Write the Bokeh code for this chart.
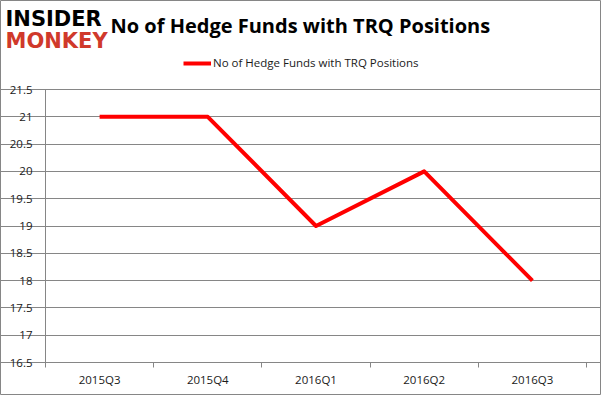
from bokeh.plotting import figure
from bokeh.models import (Range1d, LinearAxis, FixedTicker,
                          Label, Legend, LegendItem, ColumnDataSource)
from bokeh.embed import file_html
from bokeh.resources import INLINE

categories = ["2015Q3", "2015Q4", "2016Q1", "2016Q2", "2016Q3"]
hedge_funds = [21, 21, 19, 20, 18]
y_ticks = [16.5, 17, 17.5, 18, 18.5, 19, 19.5, 20, 20.5, 21, 21.5]
title_text = "No of Hedge Funds with TRQ Positions"
series_name = "No of Hedge Funds with TRQ Positions"
logo_top = "INSIDER"
logo_bottom = "MONKEY"

GRID = "#868686"
FONT = "Open Sans"

# canvas / plot-area geometry (pixels)
W, H = 601, 395
PL, PR, PT, PB = 45, 586, 89, 362

n = len(categories)
y0, y1 = y_ticks[0], y_ticks[-1]
centers = [i + 0.5 for i in range(n)]
edges = [float(i) for i in range(n + 1)]
src = ColumnDataSource(dict(x=centers, y=hedge_funds, cat=categories))

# ranges extended so that the data area sits at PL..PR / PT..PB while the frame fills the canvas
xu = (PR - PL) / n
yu = (PB - PT) / (y1 - y0)
x_range = Range1d(-PL / xu, n + (W - PR) / xu)
y_range = Range1d(y0 - (H - PB) / yu, y1 + PT / yu)

p = figure(width=W, height=H, x_range=x_range, y_range=y_range,
           output_backend="svg", toolbar_location=None,
           x_axis_location=None, y_axis_location=None, min_border=0)
p.outline_line_color = GRID
p.border_fill_color = "white"
p.background_fill_color = "white"

yax = LinearAxis(ticker=FixedTicker(ticks=y_ticks), fixed_location=0, bounds=(y0, y1))
yax.axis_line_color = GRID
yax.major_tick_line_color = GRID
yax.major_tick_out = 5
yax.major_tick_in = 0
yax.minor_tick_line_color = None
yax.major_label_standoff = 8
yax.major_label_text_font = FONT
yax.major_label_text_font_size = "11.5px"
yax.major_label_text_color = "#1a1a1a"
p.add_layout(yax, "left")

xax = LinearAxis(ticker=FixedTicker(ticks=centers, minor_ticks=edges),
                 fixed_location=y0, bounds=(0, n))
xax.major_label_overrides = {c: lab for c, lab in zip(centers, categories)}
xax.axis_line_color = GRID
xax.major_tick_line_color = None
xax.minor_tick_line_color = GRID
xax.minor_tick_out = 5
xax.minor_tick_in = 0
xax.major_tick_out = 0
xax.major_tick_in = 0
xax.major_label_standoff = 4
xax.major_label_text_font = FONT
xax.major_label_text_font_size = "11.5px"
xax.major_label_text_color = "#1a1a1a"
p.add_layout(xax, "below")

p.xgrid.visible = False
p.ygrid.grid_line_color = GRID
p.ygrid.ticker = FixedTicker(ticks=y_ticks)
p.ygrid.grid_line_width = 1
p.ygrid.bounds = (0, n)

r = p.line("x", "y", source=src, line_color="#ff0000", line_width=4, line_join="round")

legend = Legend(items=[LegendItem(label=series_name, renderers=[r])],
                location=(183, H - 70), orientation="horizontal",
                label_text_font=FONT, label_text_font_size="11.5px",
                label_standoff=2, glyph_width=28, glyph_height=10,
                padding=0, margin=0, border_line_color=None,
                background_fill_alpha=0, label_text_color="#1a1a1a")
p.add_layout(legend, "center")

p.add_layout(Label(x=110, y=H - 25, x_units="screen", y_units="screen", text=title_text,
                   text_baseline="middle",
                   text_font=FONT, text_font_style="bold", text_font_size="20px",
                   text_color="black"))
p.add_layout(Label(x=5, y=H - 18, x_units="screen", y_units="screen", text=logo_top,
                   text_baseline="middle",
                   text_font="DejaVu Sans", text_font_style="bold", text_font_size="21px",
                   text_color="black"))
p.add_layout(Label(x=5, y=H - 40, x_units="screen", y_units="screen", text=logo_bottom,
                   text_baseline="middle",
                   text_font="DejaVu Sans", text_font_style="bold", text_font_size="21px",
                   text_color="#d0392b"))

open("out.html", "w").write(file_html(p, INLINE))
